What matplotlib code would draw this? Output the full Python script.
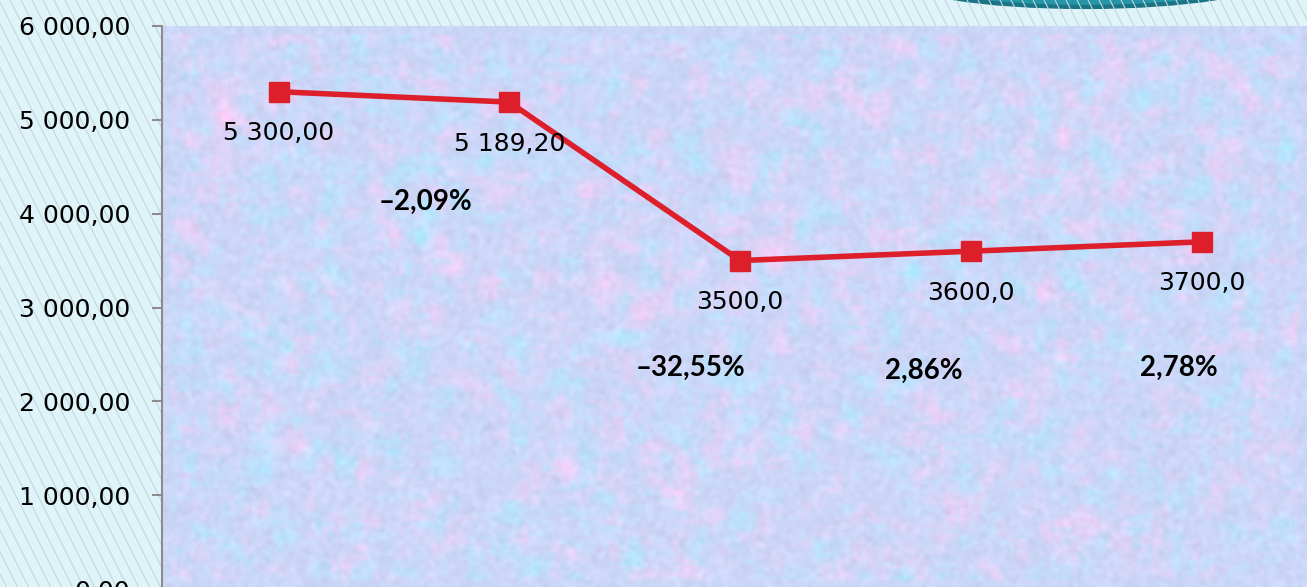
import numpy as np
import matplotlib
matplotlib.use('Agg')
import matplotlib.pyplot as plt
from matplotlib.patches import Ellipse
from matplotlib.collections import LineCollection
from matplotlib.ticker import FuncFormatter

# data
values = [5300.0, 5189.2, 3500.0, 3600.0, 3700.0]
value_labels = ['5 300,00', '5 189,20', '3500,0', '3600,0', '3700,0']
pct_labels = ['–2,09%', '–32,55%', '2,86%', '2,78%']
yticks = [0, 1000, 2000, 3000, 4000, 5000, 6000]

# where the percent labels sit (data coords)
pct_pos = [(0.635, 4130), (1.785, 2360), (2.795, 2330), (3.90, 2360)]

W, H = 1307, 587
fig = plt.figure(figsize=(W / 100, H / 100), dpi=100)
fig.patch.set_facecolor('#dff4f9')

# background: diagonal stripes + teal shape top right
bg = fig.add_axes([0, 0, 1, 1], zorder=0)
bg.set_xlim(0, W)
bg.set_ylim(H, 0)
bg.axis('off')
segs = [[(x0, 0), (x0 + 0.5 * H, H)] for x0 in range(-320, W + 11, 11)]
bg.add_collection(LineCollection(segs, colors='#c3d6db', linewidths=0.8))
bg.add_patch(Ellipse((1085, -23), 370, 60, facecolor='#2596a8',
                     edgecolor='#1b7386', lw=3))

# main axes, plot area from x=162 to the right edge, 0 just below the bottom
ax = fig.add_axes([162 / W, (H - 589) / H, 1 - 162 / W, 563 / H], zorder=1)

# textured plot area
rng = np.random.default_rng(7)


def blur(a, k):
    ker = np.ones(k) / k
    a = np.apply_along_axis(lambda r: np.convolve(r, ker, mode='same'), 1, a)
    a = np.apply_along_axis(lambda c: np.convolve(c, ker, mode='same'), 0, a)
    return a


h, w = 188, 382
pink = blur(rng.random((h, w)), 7)
blue = blur(rng.random((h, w)), 7)
pink = (pink - pink.mean()) / pink.std()
blue = (blue - blue.mean()) / blue.std()
fine = blur(rng.normal(0, 1, (h, w)), 2)
base = np.array([0.80, 0.84, 0.97])
c_pink = np.array([0.91, 0.82, 0.97]) - base
c_blue = np.array([0.72, 0.89, 0.99]) - base
img = (base[None, None, :]
       + 0.5 * np.clip(pink, 0, None)[..., None] * c_pink
       + 0.5 * np.clip(blue, 0, None)[..., None] * c_blue
       + 0.025 * fine[..., None])
img = np.clip(img, 0, 1)
ax.imshow(img, extent=[0, 1, 0, 1], transform=ax.transAxes, aspect='auto',
          interpolation='bilinear', zorder=0)
ax.patch.set_visible(False)

x = np.arange(len(values))
ax.plot(x, values, color='#dc1f2b', lw=4, marker='s', markersize=14,
        zorder=3, solid_joinstyle='miter')

for xi, v, lab in zip(x, values, value_labels):
    ax.annotate(lab, (xi, v), xytext=(0, -30), textcoords='offset points',
                ha='center', va='center', fontsize=18, family='DejaVu Sans',
                zorder=4)

for (px, py), lab in zip(pct_pos, pct_labels):
    ax.text(px, py, lab, ha='center', va='center', fontsize=20,
            family='Lato', fontweight='bold', zorder=4)

ax.set_xlim(-116.5 / 230.75, (W - 278.5) / 230.75)
ax.set_ylim(0, 6000)
ax.set_yticks(yticks)
ax.yaxis.set_major_formatter(FuncFormatter(
    lambda v, p: f'{v:,.2f}'.replace(',', ' ').replace('.', ',')))
ax.tick_params(axis='y', direction='out', length=7, width=1.5,
               color='#8c8c8c', pad=16, labelsize=18)
ax.set_xticks([])
for s in ['top', 'right', 'bottom']:
    ax.spines[s].set_visible(False)
ax.spines['left'].set_color('#8c8c8c')
ax.spines['left'].set_linewidth(1.5)

fig.savefig('out.png', dpi=100, facecolor=fig.get_facecolor())
